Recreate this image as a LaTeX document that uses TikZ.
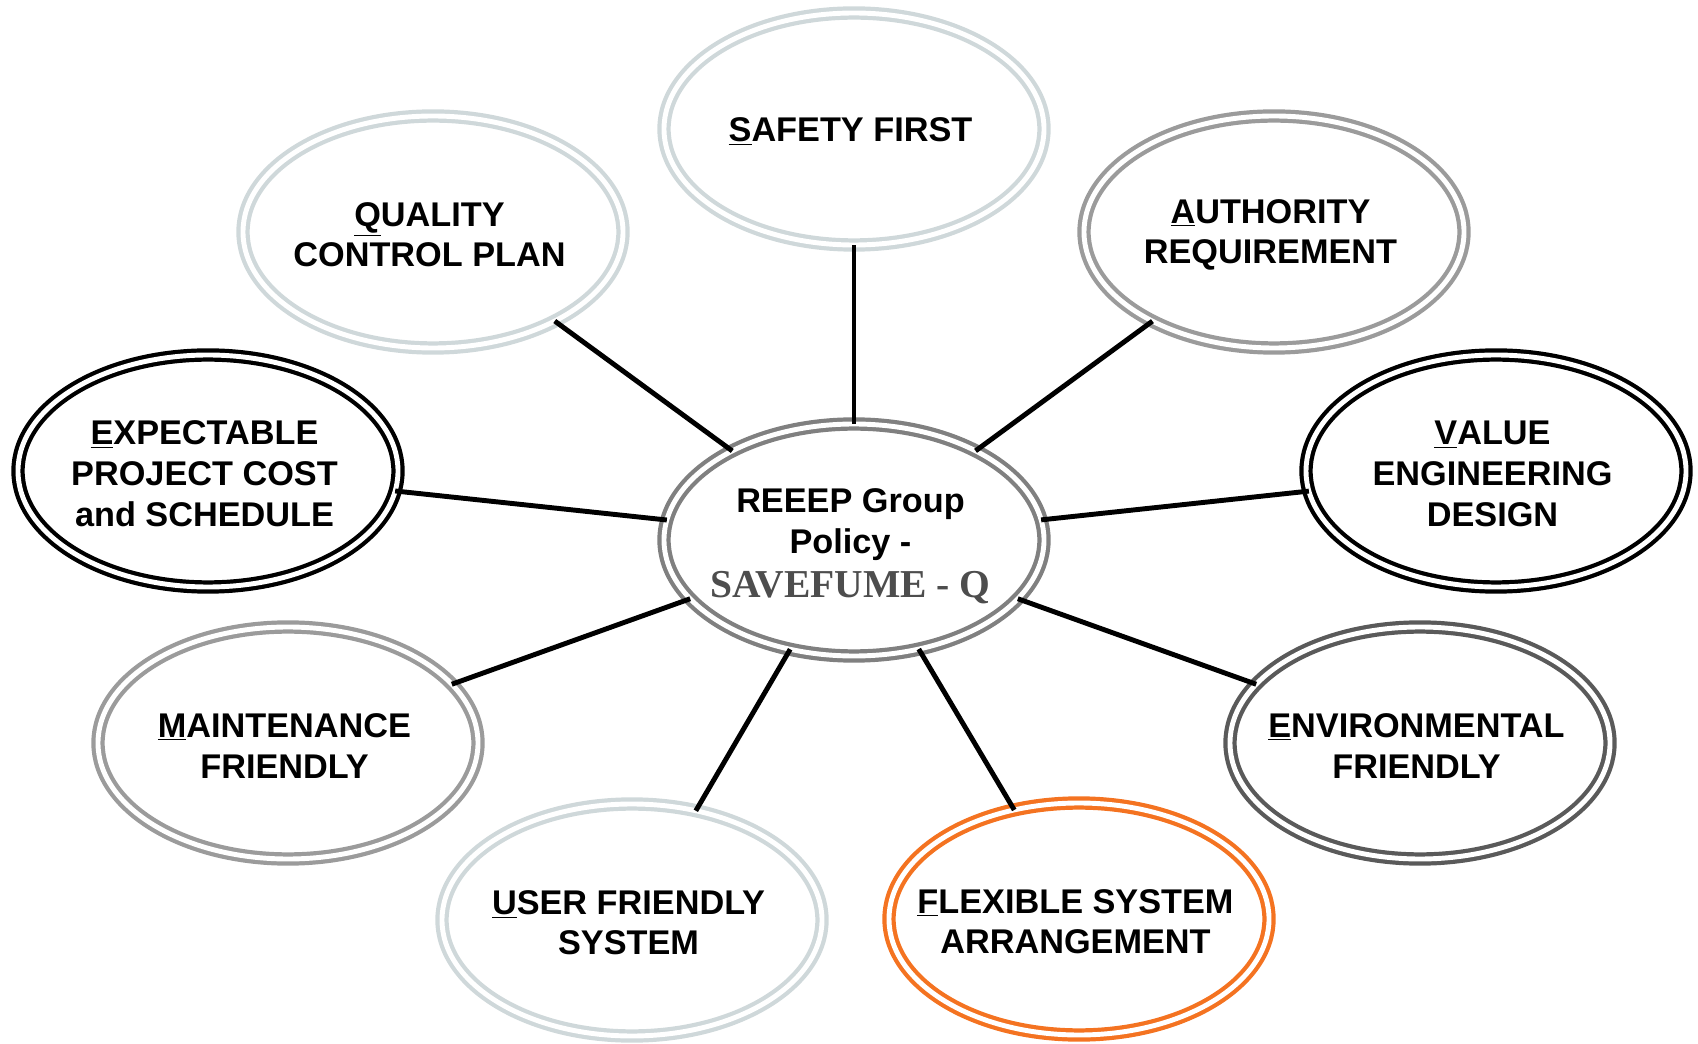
\documentclass[tikz,border=0pt]{standalone}
\usepackage{fontspec}
\setmainfont{Liberation Sans}
\newfontfamily\savefont{Liberation Serif}
\usetikzlibrary{shapes.geometric}

\definecolor{mist}{HTML}{CFD8DA}
\definecolor{midgray}{HTML}{9B9B9B}
\definecolor{hubgray}{HTML}{808080}
\definecolor{slate}{HTML}{5A5A5A}
\definecolor{flexorange}{HTML}{F47321}
\definecolor{savegray}{HTML}{4D4D4D}

\newcommand{\first}[1]{\underline{#1}}

\tikzset{
    ring/.style={ellipse, draw=#1, double, double distance=2.8pt,
        line width=2.4pt, minimum width=7.6cm, minimum height=4.64cm,
        inner sep=0pt, outer sep=0pt},
    ringtext/.style={align=center, inner sep=0pt, yshift=-1.6pt, xshift=-2pt,
        font=\bfseries\fontsize{19.5}{23.2}\selectfont},
    spoke/.style={line width=2.8pt, black},
}

\begin{document}
\begin{tikzpicture}[x=0.2mm, y=-0.2mm]
    \useasboundingbox (0,0) rectangle (1698,1044);

    % Rings
    \node[ring=hubgray] (hub) at (854,540) {};
    \node[ring=mist] (safety) at (854,129) {};
    \node[ring=mist] (quality) at (433,232) {};
    \node[ring=midgray] (authority) at (1274,232) {};
    \node[ring=black] (expect) at (208,471) {};
    \node[ring=black] (value) at (1496,471) {};
    \node[ring=midgray] (maint) at (288,743) {};
    \node[ring=slate] (env) at (1420,743) {};
    \node[ring=mist] (user) at (632,920) {};
    \node[ring=flexorange] (flex) at (1079,919) {};

    % Spokes
    \foreach \n in {safety,quality,authority,expect,value,maint,env,user,flex} {
        \draw[spoke] (hub) -- (\n);
    }

    % Texts
    \node[ringtext, yshift=-2pt] (hub-t) at (hub)
        {REEEP Group\\Policy -\\[2pt]{\savefont\color{savegray}\fontsize{22.5}{25}\selectfont SAVEFUME - Q}};
    \node[ringtext] (safety-t) at (safety) {\first{S}AFETY FIRST};
    \node[ringtext] (quality-t) at (quality) {\first{Q}UALITY\\CONTROL PLAN};
    \node[ringtext] (authority-t) at (authority) {\first{A}UTHORITY\\REQUIREMENT};
    \node[ringtext] (expect-t) at (expect) {\first{E}XPECTABLE\\PROJECT COST\\and SCHEDULE};
    \node[ringtext] (value-t) at (value) {\first{V}ALUE\\ENGINEERING\\DESIGN};
    \node[ringtext] (maint-t) at (maint) {\first{M}AINTENANCE\\FRIENDLY};
    \node[ringtext] (env-t) at (env) {\first{E}NVIRONMENTAL\\FRIENDLY};
    \node[ringtext] (user-t) at (user) {\first{U}SER FRIENDLY\\SYSTEM};
    \node[ringtext] (flex-t) at (flex) {\first{F}LEXIBLE SYSTEM\\ARRANGEMENT};
\end{tikzpicture}
\end{document}
